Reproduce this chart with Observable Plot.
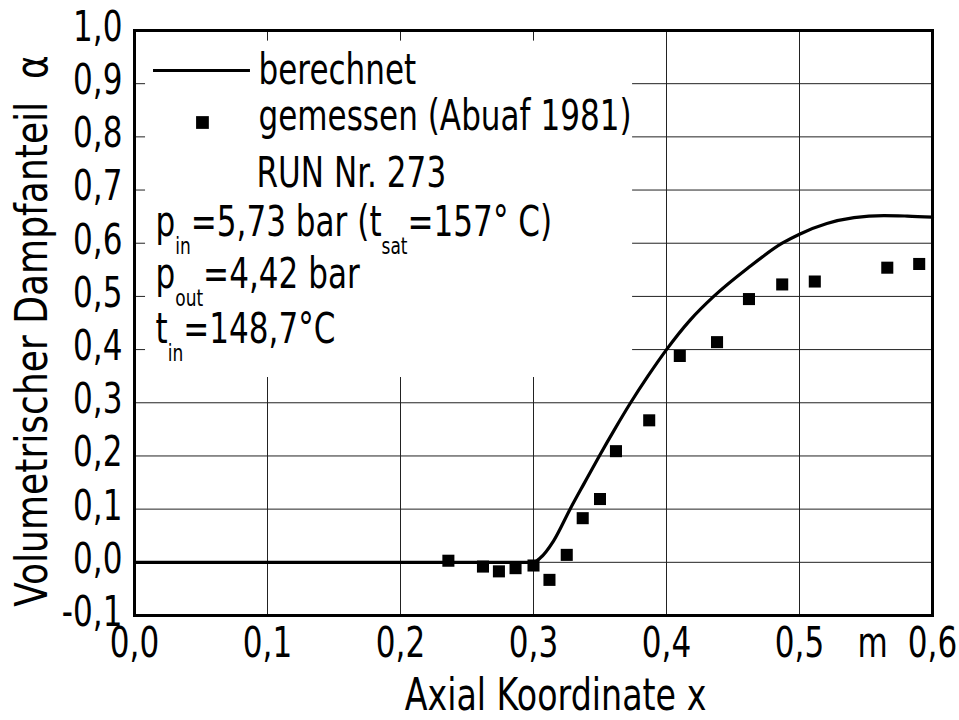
<!DOCTYPE html>
<html><head><meta charset="utf-8">
<script src="https://cdn.jsdelivr.net/npm/d3@7"></script>
<script src="https://cdn.jsdelivr.net/npm/@observablehq/plot@0.6"></script>
<style>
body{margin:0;background:#fff;}
</style></head><body><div id="chart"></div>
<script>
// computed curve ("berechnet")
const lineX = [0, 0.30, 0.305, 0.315, 0.3275, 0.338, 0.3495, 0.361, 0.373, 0.386, 0.40, 0.4176, 0.4355, 0.461, 0.487, 0.50, 0.5206, 0.541, 0.5635, 0.581, 0.60];
const lineY = [0, 0, 0.008, 0.04, 0.10, 0.148, 0.20, 0.25, 0.30, 0.35, 0.40, 0.455, 0.50, 0.553, 0.60, 0.617, 0.637, 0.648, 0.652, 0.651, 0.649];
// measured points ("gemessen (Abuaf 1981)")
const ptX = [0.236, 0.262, 0.274, 0.2865, 0.300, 0.312, 0.325, 0.337, 0.350, 0.362, 0.387, 0.410, 0.438, 0.462, 0.487, 0.5115, 0.566, 0.590];
const ptY = [0.003, -0.008, -0.017, -0.011, -0.006, -0.033, 0.014, 0.083, 0.119, 0.209, 0.267, 0.388, 0.414, 0.495, 0.5225, 0.528, 0.554, 0.561];
// ticks
const xTicks = [0, 0.1, 0.2, 0.3, 0.4, 0.5, 0.6];
const xUnitTick = 0.555;
const xUnitLabel = "m";
const yTicks = [-0.1, 0, 0.1, 0.2, 0.3, 0.4, 0.5, 0.6, 0.7, 0.8, 0.9, 1.0];
const xGrid = [0.1, 0.2, 0.3, 0.4, 0.5];
const yGrid = [0, 0.1, 0.2, 0.3, 0.4, 0.5, 0.6, 0.7, 0.8, 0.9];
// texts
const xTitle = "Axial Koordinate x";
const yTitle = "Volumetrischer Dampfanteil\u00a0\u00a0α";
const legendLabels = ["berechnet", "gemessen (Abuaf 1981)", "RUN Nr. 273"];
const infoLines = ["p_{in}=5,73 bar (t_{sat}=157° C)", "p_{out}=4,42 bar", "t_{in}=148,7°C"];

const fmt = d => d.toFixed(1).replace(".", ",");
const lineData = lineX.map((x, i) => ({x, y: lineY[i]}));
const ptData = ptX.map((x, i) => ({x, y: ptY[i]}));
const legendData = legendLabels.map((t, i) => ({t, x: [0.0932, 0.0932, 0.0917][i], y: [0.9003, 0.812, 0.7048][i]}));
const infoData = infoLines.map((t, i) => ({t, x: 0.0158, y: [0.6145, 0.5149, 0.4133][i]}));

const plot = Plot.plot({
  width: 959, height: 720,
  marginLeft: 134, marginRight: 27, marginTop: 30, marginBottom: 105,
  style: {fontFamily: '"DejaVu Sans","Liberation Sans",sans-serif', fontSize: "42px", background: "white", color: "black"},
  x: {domain: [0, 0.6]},
  y: {domain: [-0.1, 1.0]},
  marks: [
    Plot.ruleX(xGrid, {stroke: "#222", strokeWidth: 1}),
    Plot.ruleY(yGrid, {stroke: "#222", strokeWidth: 1}),
    Plot.rect([{}], {x1: () => 0, x2: () => 0.3745, y1: () => 0.3475, y2: () => 1.0, fill: "white"}),
    Plot.ruleY(yGrid.filter(d => d >= 0.4), {x1: () => 0, x2: () => 0.0083, stroke: "#222", strokeWidth: 1}),
    Plot.ruleX(xGrid, {y1: () => 1.0, y2: () => 0.98, stroke: "#222", strokeWidth: 1}),
    Plot.line(lineData, {x: "x", y: "y", stroke: "black", strokeWidth: 3.2, curve: "monotone-x"}),
    Plot.dot(ptData, {x: "x", y: "y", symbol: "square", r: 6.8, fill: "black", stroke: "none"}),
    // legend
    Plot.ruleY([0.925], {x1: () => 0.0143, x2: () => 0.0872, stroke: "black", strokeWidth: 3}),
    Plot.dot([{x: 0.0511, y: 0.827}], {x: "x", y: "y", symbol: "square", r: 7.2, fill: "black", stroke: "none"}),
    Plot.text(legendData, {x: "x", y: "y", text: "t", textAnchor: "start", lineAnchor: "bottom", fill: "black"}),
    Plot.text(infoData, {x: "x", y: "y", text: "t", textAnchor: "start", lineAnchor: "bottom", fill: "black"}),
    Plot.frame({stroke: "black", strokeWidth: 3}),
    Plot.axisY(yTicks, {tickFormat: fmt, tickSize: 0, tickPadding: 12, label: null, dy: -3}),
    Plot.axisX([...xTicks, xUnitTick], {tickFormat: d => d === xUnitTick ? xUnitLabel : fmt(d), tickSize: 0, tickPadding: 12, label: null}),
    Plot.text([xTitle], {frameAnchor: "bottom", dx: 22, dy: 94, lineAnchor: "bottom", textAnchor: "middle", fontSize: 45, fill: "black"}),
    Plot.text([yTitle], {frameAnchor: "left", rotate: -90, dx: -102, dy: 8, textAnchor: "middle", fontSize: 44, fill: "black", className: "ytitle"})
  ]
});

// subscripts
plot.querySelectorAll("text").forEach(t => {
  const s = t.textContent;
  if (!s.includes("_{")) return;
  t.textContent = "";
  let sub = false;
  s.split(/(_\{[^}]*\})/).forEach(p => {
    if (!p) return;
    const ts = document.createElementNS("http://www.w3.org/2000/svg", "tspan");
    if (p.startsWith("_{")) {
      ts.textContent = p.slice(2, -1);
      ts.setAttribute("font-size", "23");
      ts.setAttribute("dy", "18");
      sub = true;
    } else {
      ts.textContent = p;
      if (sub) { ts.setAttribute("dy", "-18"); sub = false; }
    }
    t.appendChild(ts);
  });
});
// narrow technical lettering: condense glyphs horizontally around their anchor
plot.querySelectorAll("text").forEach(t => {
  const k = t.closest(".ytitle") ? 0.82 : 0.74;
  const tr = t.getAttribute("transform");
  if (tr) t.setAttribute("transform", tr + ` scale(${k},1)`);
  else {
    const x = +t.getAttribute("x") || 0;
    t.setAttribute("transform", `translate(${x},0) scale(${k},1) translate(${-x},0)`);
  }
});
document.getElementById("chart").appendChild(plot);
</script></body></html>
